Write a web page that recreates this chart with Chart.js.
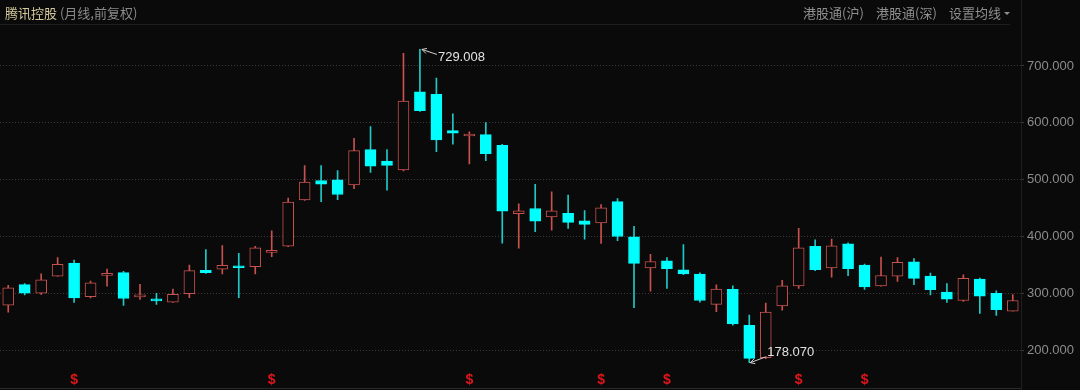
<!DOCTYPE html>
<html><head><meta charset="utf-8">
<script src="https://cdn.jsdelivr.net/npm/chart.js@4.4.0/dist/chart.umd.min.js"></script>
<style>
html,body{margin:0;padding:0;background:#0a0a0a;}
#wrap{position:relative;width:1080px;height:390px;overflow:hidden;background:#0a0a0a;font-family:"Noto Sans CJK SC","Noto Sans",sans-serif;}
canvas{position:absolute;left:0;top:0;}
.t{position:absolute;top:4px;font-size:13px;line-height:18px;white-space:nowrap;color:#8f8f8f;}
.ln{position:absolute;}
</style></head>
<body><div id="wrap">
<canvas id="c" width="1080" height="390"></canvas>
<div class="t" style="left:5px;"><span style="color:#d2c89c">腾讯控股</span> <span style="color:#8a8a8a">(月线,前复权)</span></div>
<div class="t" style="left:803px;">港股通(沪)</div>
<div class="t" style="left:876px;">港股通(深)</div>
<div class="t" style="left:949px;">设置均线</div>
<div class="ln" style="left:1004px;top:12px;width:0;height:0;border-left:3px solid transparent;border-right:3px solid transparent;border-top:3px solid #8f8f8f;"></div>
<div class="ln" style="left:0;top:24px;width:1010px;height:1px;background:#1f1f1f;"></div>
<div class="ln" style="left:1021px;top:0;width:1px;height:390px;background:#1f1f1f;"></div>
<div class="ln" style="left:0;top:388px;width:1021px;height:1px;background:#2a2a2a;"></div>
</div>
<script>
const months = [];
for (let k = 0; k < 62; k++) { const y = 2019 + Math.floor(k / 12), m = k % 12 + 1; months.push(y + '-' + String(m).padStart(2, '0')); }
const opens  = [279.4,315.4,300.5,330.4,353.2,294.3,331.7,336.5,293.7,289.7,284.6,299.5,340.7,342.4,348.5,346.8,372.0,382.9,464.2,498.5,499.5,490.9,552.7,532.8,517.3,654.6,649.9,586.5,576.7,579.1,560.2,440.1,449.2,434.3,440.7,427.5,424.0,461.2,399.5,344.6,357.1,341.2,333.8,280.6,306.9,243.9,186.8,277.7,313.2,382.9,344.6,387.0,349.7,313.2,330.4,355.4,330.4,302.2,287.5,325.2,300.0,268.6];
const highs  = [314.2,317.2,334.3,363.0,358.3,321.8,342.9,338.9,316.0,300.0,307.4,349.7,377.2,384.0,370.3,382.9,409.8,467.6,524.7,524.7,516.1,572.7,593.3,552.7,722.0,729.008,678.6,615.6,584.2,600.2,562.0,457.3,491.6,478.4,472.7,445.8,456.1,466.9,417.8,368.6,363.0,385.8,336.0,314.9,313.2,261.8,282.8,322.8,414.4,394.3,395.5,388.7,351.5,364.0,363.0,361.2,335.5,317.2,332.6,326.9,304.6,297.8];
const lows   = [266.9,297.1,298.3,329.7,284.0,291.9,312.5,278.9,289.2,280.6,284.0,292.6,335.2,334.3,292.6,334.3,364.7,382.3,463.5,461.2,464.7,484.0,512.7,481.3,515.5,620.0,549.2,562.4,527.6,533.3,388.3,379.4,408.6,411.0,414.4,395.5,388.0,392.6,274.8,303.9,308.6,333.0,284.6,267.9,243.9,178.07,185.1,270.3,308.6,340.0,328.6,330.9,306.9,312.5,321.1,315.4,297.1,284.0,285.8,264.5,261.1,268.6];
const closes = [309.8,300.5,324.0,350.9,291.9,318.4,333.5,290.9,297.1,286.8,298.3,340.0,336.5,349.2,345.1,380.1,375.5,460.7,495.5,492.1,473.8,551.0,523.5,525.2,638.4,621.3,569.8,581.8,579.6,545.8,444.6,445.3,426.9,445.3,424.7,421.3,450.4,400.0,352.7,356.1,343.4,334.3,287.5,307.4,246.3,185.6,266.9,313.2,380.1,341.7,383.5,343.4,311.5,331.4,354.4,326.2,306.3,289.7,326.2,294.9,271.4,287.5];
const yTicks = [200, 300, 400, 500, 600, 700];
const dividendIdx = [4, 16, 28, 36, 40, 48, 52];
const maxLabel = '729.008', minLabel = '178.070';

const BG = '#0a0a0a', UP = '#c8514e', DOWN = '#00ffff', DOWN_WICK = '#20c8c8';
const isUp = opens.map((o, i) => closes[i] >= o);

const annot = {
  id: 'annot',
  afterDatasetsDraw(chart) {
    const { ctx, scales: { x, y } } = chart;
    ctx.save();
    let iMax = highs.indexOf(Math.max(...highs));
    let iMin = lows.indexOf(Math.min(...lows));
    ctx.strokeStyle = '#d0d0d0'; ctx.fillStyle = '#e2e2e2'; ctx.lineWidth = 1;
    ctx.font = '13px "Liberation Sans", Arial';
    ctx.textBaseline = 'middle'; ctx.textAlign = 'left';
    let px = x.getPixelForValue(iMax), py = y.getPixelForValue(highs[iMax]);
    ctx.beginPath(); ctx.moveTo(px + 2, py); ctx.lineTo(px + 17, py + 5);
    ctx.moveTo(px + 2, py); ctx.lineTo(px + 7, py - 1);
    ctx.moveTo(px + 2, py); ctx.lineTo(px + 6, py + 4);
    ctx.stroke();
    ctx.fillText(maxLabel, px + 18, py + 8);
    px = x.getPixelForValue(iMin); py = y.getPixelForValue(lows[iMin]);
    ctx.beginPath(); ctx.moveTo(px + 1, py); ctx.lineTo(px + 17, py - 6);
    ctx.moveTo(px + 1, py); ctx.lineTo(px + 6, py + 1);
    ctx.moveTo(px + 1, py); ctx.lineTo(px + 5, py - 4);
    ctx.stroke();
    ctx.fillText(minLabel, px + 18, py - 10);
    ctx.fillStyle = '#e0161a'; ctx.font = 'bold 14px "Liberation Sans", Arial'; ctx.textAlign = 'center';
    dividendIdx.forEach(i => ctx.fillText('$', x.getPixelForValue(i), 380));
    ctx.restore();
  }
};

new Chart(document.getElementById('c'), {
  type: 'bar',
  data: {
    labels: months,
    datasets: [
      { label: 'wick', data: lows.map((l, i) => [l, highs[i]]),
        backgroundColor: isUp.map(u => u ? UP : DOWN_WICK), borderWidth: 0,
        barThickness: 1, grouped: false, order: 2 },
      { label: 'body', data: opens.map((o, i) => [o, closes[i]]),
        backgroundColor: isUp.map(u => u ? BG : DOWN), borderColor: isUp.map(u => u ? UP : DOWN),
        borderWidth: 1, borderSkipped: false, barThickness: 11, grouped: false, order: 1, minBarLength: 2 }
    ]
  },
  options: {
    responsive: false, animation: false, devicePixelRatio: 1,
    layout: { padding: { top: 25, bottom: 2, left: 0, right: 0 } },
    plugins: { legend: { display: false }, tooltip: { enabled: false } },
    scales: {
      x: { display: false, offset: true },
      y: {
        position: 'right', min: 149, max: 772,
        afterBuildTicks(s) { s.ticks = yTicks.map(v => ({ value: v })); },
        afterFit(s) { s.width = 59; },
        ticks: { color: '#8c8c8c', font: { size: 13, family: '"Liberation Sans", Arial' }, padding: 3,
                 callback: v => Number(v).toFixed(3) },
        grid: { color: '#3a3a3a', drawTicks: true, tickLength: 3, tickColor: '#3a3a3a' },
        border: { display: false, dash: [1, 2] }
      }
    }
  },
  plugins: [annot]
});
</script>
</body></html>
